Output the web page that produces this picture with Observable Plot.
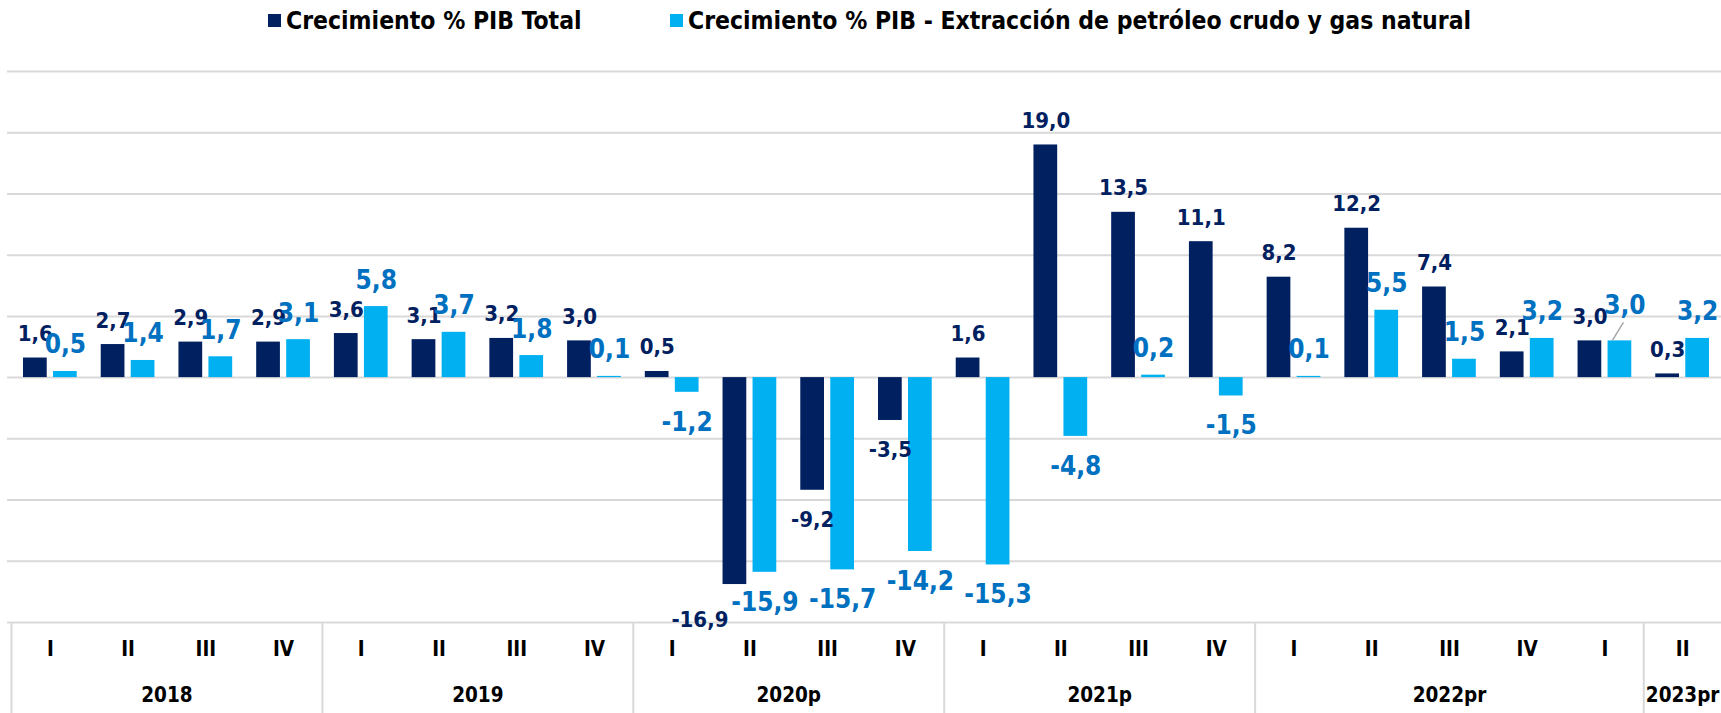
<!DOCTYPE html>
<html>
<head>
<meta charset="utf-8">
<script src="https://cdn.jsdelivr.net/npm/d3@7"></script>
<script src="https://cdn.jsdelivr.net/npm/@observablehq/plot@0.6"></script>
<style>
  html, body { margin: 0; padding: 0; background: #ffffff; }
  #legend { position: relative; width: 1721px; height: 40px; font-family: "DejaVu Sans Condensed", "DejaVu Sans", sans-serif; font-weight: bold; font-size: 24.5px; color: #000; }
  #legend .item { position: absolute; top: 6px; display: flex; align-items: center; white-space: nowrap; }
  #legend .sw { display: inline-block; width: 13px; height: 13px; margin-right: 5px; }
  #chart svg { display: block; }
</style>
</head>
<body>
<div id="legend"></div>
<div id="chart"></div>
<script>
// ---- Data ----
const years = ["2018", "2019", "2020p", "2021p", "2022pr", "2023pr"];
const yearSpans = [4, 4, 4, 4, 5, 1];
const quarters = ["I", "II", "III", "IV", "I", "II", "III", "IV", "I", "II", "III", "IV",
                  "I", "II", "III", "IV", "I", "II", "III", "IV", "I", "II"];
const pibTotal = [1.6, 2.7, 2.9, 2.9, 3.6, 3.1, 3.2, 3.0, 0.5, -16.9, -9.2, -3.5,
                  1.6, 19.0, 13.5, 11.1, 8.2, 12.2, 7.4, 2.1, 3.0, 0.3];
const pibPetroleo = [0.5, 1.4, 1.7, 3.1, 5.8, 3.7, 1.8, 0.1, -1.2, -15.9, -15.7, -14.2,
                     -15.3, -4.8, 0.2, -1.5, 0.1, 5.5, 1.5, 3.2, 3.0, 3.2];
const seriesNames = ["Crecimiento % PIB Total", "Crecimiento % PIB - Extracción de petróleo crudo y gas natural"];
const gridTicks = [-20, -15, -10, -5, 0, 5, 10, 15, 20, 25];

// ---- Styles / layout ----
const C_DARK = "#002060", C_LIGHT = "#00B0F0", C_LIGHT_TXT = "#0070C0";
const W = 1721, H = 673, mT = 31, mB = 91, mL = 11, mR = 0;
const bw = (W - mL - mR) / quarters.length;
const FONT = "DejaVu Sans Condensed";

const keys = quarters.map((q, i) => `${i}-${q}`);
const rows = keys.map((k, i) => ({i, key: k, q: quarters[i], total: pibTotal[i], petro: pibPetroleo[i]}));
const fmt = v => v.toFixed(1).replace(".", ",");

// group starts and year label anchors
const groups = [];
let s = 0;
years.forEach((y, gi) => {
  const n = yearSpans[gi];
  groups.push({year: y, startKey: keys[s], labelKey: keys[s + Math.floor(n / 2)], even: n % 2 === 0});
  s += n;
});

// labels placed by hand in the original
const totalNudged = 9;   // -16,9 moved left of its bar
const petroLeader = 20;  // 3,0 with a leader line

// legend
const legend = document.getElementById("legend");
[[seriesNames[0], C_DARK, 268], [seriesNames[1], C_LIGHT, 670]].forEach(([t, c, x]) => {
  const d = document.createElement("div");
  d.className = "item";
  d.style.left = x + "px";
  d.innerHTML = `<span class="sw" style="background:${c}"></span><span>${t}</span>`;
  legend.appendChild(d);
});

const darkLbl = {fill: C_DARK, fontSize: 22, fontFamily: FONT, fontWeight: "bold"};
const lightLbl = {fill: C_LIGHT_TXT, fontSize: 26, fontFamily: FONT, fontWeight: "bold"};
const tableTxt = {fill: "#000", fontSize: 20.5, fontFamily: FONT, fontWeight: "bold", frameAnchor: "bottom"};

const leader = (index, scales) => {
  const r = rows[petroLeader];
  const cx = scales.x(r.key) + bw / 2 + 15;
  const y0 = scales.y(r.petro);
  return d3.create("svg:line")
    .attr("x1", cx - 7).attr("y1", y0)
    .attr("x2", cx + 4).attr("y2", y0 - 18)
    .attr("stroke", "#a6a6a6").attr("stroke-width", 1.5).node();
};

const plot = Plot.plot({
  width: W, height: H,
  marginTop: mT, marginBottom: mB, marginLeft: mL, marginRight: mR,
  x: {type: "band", domain: keys, padding: 0, round: false, axis: null},
  y: {domain: [-20, 25], axis: null},
  style: {background: "#ffffff", overflow: "visible"},
  marks: [
    Plot.ruleY(gridTicks, {stroke: "#d9d9d9", strokeWidth: 2, insetLeft: -4}),
    // table separators
    Plot.ruleX(groups, {x: "startKey", y1: -20, y2: -20, insetBottom: -mB, dx: -bw / 2, stroke: "#d9d9d9", strokeWidth: 2}),
    // bars
    Plot.barY(rows, {x: "key", y: "total", fill: C_DARK, insetLeft: 12, insetRight: 42}),
    Plot.barY(rows, {x: "key", y: "petro", fill: C_LIGHT, insetLeft: 42, insetRight: 12}),
    leader,
    // value labels: total
    Plot.text(rows.filter(d => d.total >= 0), {x: "key", y: "total", text: d => fmt(d.total), dx: -15, dy: -17, lineAnchor: "bottom", ...darkLbl}),
    Plot.text(rows.filter(d => d.total < 0 && d.i !== totalNudged), {x: "key", y: "total", text: d => fmt(d.total), dx: -15, dy: 21, lineAnchor: "top", ...darkLbl}),
    Plot.text([rows[totalNudged]], {x: "key", y: "total", text: d => fmt(d.total), dx: -50, dy: 27, lineAnchor: "top", ...darkLbl}),
    // value labels: petro
    Plot.text(rows.filter(d => d.petro >= 0 && d.i !== petroLeader), {x: "key", y: "petro", text: d => fmt(d.petro), dx: 15, dy: -18, lineAnchor: "bottom", ...lightLbl}),
    Plot.text([rows[petroLeader]], {x: "key", y: "petro", text: d => fmt(d.petro), dx: 20, dy: -27, lineAnchor: "bottom", ...lightLbl}),
    Plot.text(rows.filter(d => d.petro < 0), {x: "key", y: "petro", text: d => fmt(d.petro), dx: 15, dy: 20, lineAnchor: "top", ...lightLbl}),
    // category table
    Plot.text(rows, {x: "key", text: "q", dy: 33, ...tableTxt}),
    Plot.text(groups.filter(g => g.even), {x: "labelKey", text: "year", dy: 79, dx: -bw / 2, ...tableTxt}),
    Plot.text(groups.filter(g => !g.even), {x: "labelKey", text: "year", dy: 79, ...tableTxt})
  ]
});
document.getElementById("chart").appendChild(plot);
</script>
</body>
</html>
